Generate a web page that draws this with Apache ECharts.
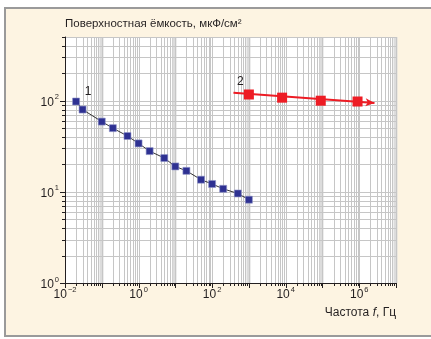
<!DOCTYPE html>
<html>
<head>
<meta charset="utf-8">
<script src="https://cdn.jsdelivr.net/npm/echarts@6/dist/echarts.min.js"></script>
<style>
  html, body { margin: 0; padding: 0; background: #ffffff; overflow: hidden; }
  #frame {
    position: absolute; left: 4px; top: 7px; width: 460px; height: 326px;
    background: #fdf4e2;
    border-top: 2px solid #9a9a9a; border-left: 2px solid #9a9a9a; border-bottom: 2px solid #9a9a9a;
  }
  #chart { position: absolute; left: 0; top: 0; width: 431px; height: 339px; }
</style>
</head>
<body>
<div id="frame"></div>
<div id="chart"></div>
<script>
// Surface capacitance vs. frequency, log–log
const FONT = "'Liberation Sans', Arial, sans-serif";

// Curve 1: low-frequency branch (Hz, µF/cm²)
const freq1 = [0.02, 0.03, 0.1, 0.2, 0.5, 1, 2, 5, 10, 20, 50, 100, 200, 500, 1000];
const cap1  = [98, 80, 59, 50, 41, 34, 28, 23.5, 19, 17, 13.6, 12.2, 10.8, 9.6, 8.2];

// Curve 2: high-frequency branch (Hz, µF/cm²)
const freq2 = [1000, 8000, 90000, 900000];
const cap2  = [117, 108, 100, 98];
// Trend line drawn through curve 2, ending in an arrow
const trend2Start = [380, 122];
const trend2End   = [2.6e6, 94.5];

// Axis ranges and labelled decades (powers of ten)
const xRange = [0.01, 1e7];
const yRange = [1, 500];
const xLabelExps = [-2, 0, 2, 4, 6];
const yLabelExps = [0, 1, 2];

const titleText = 'Поверхностная ёмкость, мкФ/см²';
const xNameMain = 'Частота ';
const xNameVar = 'f';
const xNameUnit = ', Гц';

// Log-grid positions: 1..9 × 10^n inside the axis range
function logGrid(lo, hi) {
  const out = [];
  for (let e = Math.floor(Math.log10(lo)); e <= Math.ceil(Math.log10(hi)); e++) {
    for (let m = 1; m <= 9; m++) {
      const v = m * Math.pow(10, e);
      if (v >= lo * 0.999 && v <= hi * 1.001) out.push([v, m === 1 ? (Math.abs(e) % 2 === 1 ? 2 : 1) : 0]);
    }
  }
  return out;
}
const xGrid = logGrid(xRange[0], xRange[1]);
const yGrid = logGrid(yRange[0], yRange[1]);

function supLabel(v, exps) {
  const e = Math.round(Math.log10(v));
  if (Math.abs(Math.log10(v) - e) > 1e-6 || exps.indexOf(e) < 0) return '';
  return '{b|10}{s|' + (e < 0 ? '−' + (-e) : e) + '}';
}
const labelRich = {
  b: { fontFamily: FONT, fontSize: 12, color: '#231f20', lineHeight: 15, verticalAlign: 'bottom' },
  s: { fontFamily: FONT, fontSize: 7.5, color: '#231f20', lineHeight: 15, verticalAlign: 'top', padding: [0, 0, 0, 1] }
};

const chart = echarts.init(document.getElementById('chart'), null, { renderer: 'canvas' });

const crisp = v => Math.round(v) + 0.5;

chart.setOption({
  animation: false,
  backgroundColor: 'transparent',
  graphic: [
    {
      type: 'text', z: 10, right: 35, top: 307,
      style: {
        text: '{n|' + xNameMain + '}{i|' + xNameVar + '}{n|' + xNameUnit + '}',
        rich: {
          n: { fontFamily: FONT, fontSize: 12, fill: '#231f20' },
          i: { fontFamily: FONT, fontSize: 12, fontStyle: 'italic', fill: '#231f20' }
        }
      }
    }
  ],
  title: {
    text: titleText, left: 65, top: 18, padding: 0,
    textStyle: { fontFamily: FONT, fontSize: 11.5, fontWeight: 'normal', color: '#231f20' }
  },
  grid: {
    left: 65, right: 35, top: 37, bottom: 56,
    show: true, backgroundColor: '#ffffff', borderWidth: 0
  },
  xAxis: {
    type: 'log', logBase: 10, min: xRange[0], max: xRange[1],
    axisLine: { show: true, lineStyle: { color: '#231f20', width: 1 } },
    axisTick: { show: false },
    splitLine: { show: false },
    axisLabel: {
      margin: 3, formatter: v => supLabel(v, xLabelExps), rich: labelRich,
      showMinLabel: true, showMaxLabel: true
    }
  },
  yAxis: {
    type: 'log', logBase: 10, min: yRange[0], max: yRange[1],
    axisLine: { show: true, lineStyle: { color: '#231f20', width: 1 } },
    axisTick: { show: false },
    splitLine: { show: false },
    axisLabel: {
      margin: 6, formatter: v => supLabel(v, yLabelExps), rich: labelRich,
      showMinLabel: true, showMaxLabel: true
    }
  },
  series: [
    {
      // vertical grid lines + x-axis ticks
      type: 'custom', silent: true, z: 0, clip: false,
      data: xGrid.map(g => [g[0], 1, g[1]]),
      encode: { x: 0, y: 1 },
      renderItem: function (params, api) {
        const cs = params.coordSys;
        const x = crisp(api.coord([api.value(0), 1])[0]);
        const kind = api.value(2);
        const kids = [];
        if (kind === 2) {
          kids.push({ type: 'line', shape: { x1: x - 1, y1: cs.y, x2: x - 1, y2: cs.y + cs.height },
            style: { stroke: '#dcdcdc', lineWidth: 4 } });
        }
        kids.push({ type: 'line', shape: { x1: x, y1: cs.y, x2: x, y2: cs.y + cs.height },
          style: { stroke: '#c6c6c6', lineWidth: 1 } });
        const len = kind === 0 ? 3 : 5;
        kids.push({ type: 'line', shape: { x1: x, y1: cs.y + cs.height, x2: x, y2: cs.y + cs.height + len },
          style: { stroke: '#231f20', lineWidth: 1 } });
        return { type: 'group', children: kids };
      }
    },
    {
      // horizontal grid lines + y-axis ticks
      type: 'custom', silent: true, z: 0, clip: false,
      data: yGrid.map(g => [xRange[0], g[0], g[1]]),
      encode: { x: 0, y: 1 },
      renderItem: function (params, api) {
        const cs = params.coordSys;
        const y = crisp(api.coord([xRange[0], api.value(1)])[1]);
        const kind = api.value(2);
        const len = kind === 0 ? 3 : 5;
        return { type: 'group', children: [
          { type: 'line', shape: { x1: cs.x, y1: y, x2: cs.x + cs.width, y2: y },
            style: { stroke: '#c6c6c6', lineWidth: 1 } },
          { type: 'line', shape: { x1: cs.x - len, y1: y, x2: cs.x, y2: y },
            style: { stroke: '#231f20', lineWidth: 1 } }
        ] };
      }
    },
    {
      name: '1', type: 'line', z: 5,
      data: freq1.map((f, i) => {
        const item = { value: [f, cap1[i]] };
        if (i === 0) {
          item.label = { show: true, formatter: '1', position: 'inside', offset: [12, -10],
            fontFamily: FONT, fontSize: 12, color: '#231f20' };
        }
        return item;
      }),
      symbol: 'rect', symbolSize: 7,
      itemStyle: { color: '#2e3192', borderColor: '#8f93c8', borderWidth: 0.6 },
      lineStyle: { color: '#333333', width: 1 },
      label: { show: false }
    },
    {
      name: '2', type: 'scatter', z: 6,
      data: freq2.map((f, i) => [f, cap2[i]]),
      symbol: 'rect', symbolSize: 10,
      itemStyle: { color: '#ed1c24', opacity: 1 },
      markLine: {
        silent: true, animation: false,
        symbol: ['none', 'arrow'], symbolSize: [6, 9],
        label: { show: false },
        lineStyle: { color: '#ed1c24', width: 2, type: 'solid' },
        data: [[{ coord: trend2Start }, { coord: trend2End }]]
      },
      markPoint: {
        silent: true, symbol: 'circle', symbolSize: 0,
        label: { show: true, formatter: '2', offset: [7, -11],
          fontFamily: FONT, fontSize: 12, color: '#231f20' },
        data: [{ coord: trend2Start }]
      }
    }
  ]
});
</script>
</body>
</html>
